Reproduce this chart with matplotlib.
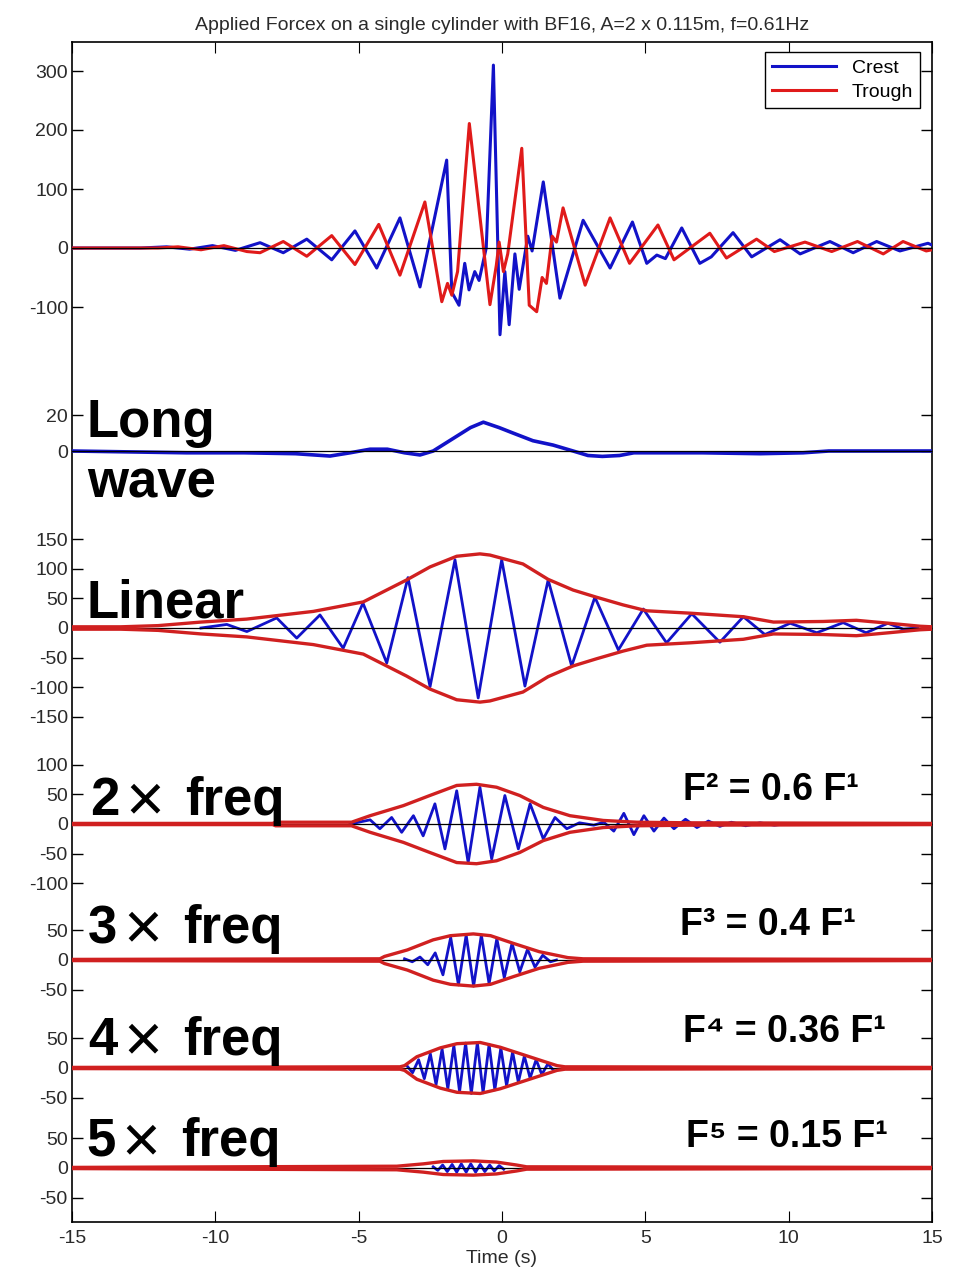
import matplotlib
matplotlib.use("Agg")
from matplotlib import pyplot as plt

plt.rcParams['font.family'] = ['Liberation Sans', 'DejaVu Sans']
plt.rcParams['axes.unicode_minus'] = False

# ---- data: time (s) and force values ----
crest_t = [-15, -12.6, -11.7, -10.9, -10.1, -9.3, -8.44, -7.63, -6.81, -5.94, -5.13, -4.37,
           -3.56, -2.86, -1.93, -1.75, -1.5, -1.3, -1.15, -0.95, -0.8, -0.55, -0.30, -0.07,
           0.1, 0.25, 0.45, 0.6, 0.9, 1.05, 1.44, 2.02, 2.83, 3.77, 4.55, 5.05, 5.4, 5.7,
           6.27, 6.9, 7.3, 8.06, 8.71, 9.7, 10.4, 11.44, 12.25, 13.07, 13.88, 14.86, 15]
crest_v = [0, 0, 2, -2, 4, -4, 9, -8, 15, -20, 29, -34,
           51, -66, 149, -75, -97, -26, -71, -40, -55, 0, 310, -147,
           -40, -130, -10, -70, 20, -5, 112, -85, 47, -34, 44, -26, -12, -18,
           34, -26, -15, 26, -15, 14, -10, 11, -8, 11, -5, 8, 5]

trough_t = [-15, -12, -11.3, -10.5, -9.7, -8.9, -8.44, -7.63, -6.81, -5.94, -5.13, -4.3,
            -3.56, -2.69, -2.1, -1.9, -1.75, -1.55, -1.14, -0.42, -0.3, -0.2, -0.1, 0.05,
            0.2, 0.69, 0.95, 1.21, 1.4, 1.55, 1.75, 1.9, 2.13, 2.9, 3.77, 4.45, 5.44, 6.0,
            7.25, 7.83, 8.88, 9.5, 10.57, 11.5, 12.4, 13.3, 13.99, 14.8, 15]
trough_v = [0, 0, 2, -3, 4, -6, -8, 11, -14, 21, -28, 40,
            -46, 78, -91, -60, -80, -40, 211, -96, -60, -30, 10, -40,
            -10, 169, -97, -108, -50, -60, 20, 10, 68, -63, 51, -26, 39, -20,
            25, -17, 15, -6, 10, -6, 11, -10, 11, -5, -3]

long_t = [-15, -13, -11, -9, -7.2, -6.0, -5.3, -4.6, -4.0, -3.4, -2.86, -2.4, -1.7, -1.1,
          -0.65, -0.1, 0.38, 1.08, 1.78, 2.48, 3.0, 3.5, 4.1, 4.6, 7, 9, 10.5, 11.4, 15]
long_v = [0, -0.5, -1, -1, -1.5, -2.8, -1, 1, 1, -1, -2.2, 0, 7, 13,
          16, 13, 10, 5.7, 3.3, 0, -2.5, -3, -2.5, -1, -1, -1.5, -1, 0, 0]

lin_t = [-10.5, -9.6, -8.9, -7.86, -7.16, -6.35, -5.54, -4.85, -4.02, -3.28, -2.51, -1.64,
         -0.83, -0.01, 0.80, 1.61, 2.43, 3.24, 4.06, 4.93, 5.74, 6.62, 7.6, 8.42, 9.17,
         10.05, 10.98, 11.9, 12.7, 13.46, 14.0, 14.5]
lin_v = [0, 6, -6, 17, -17, 22, -34, 42, -59, 85, -99, 115,
         -118, 115, -98, 81, -64, 52, -37, 32, -25, 24, -24, 19, -11,
         8, -8, 9, -8, 8, -2, 0]
lin_env_t = [-15, -13.3, -12, -10.5, -8.91, -6.58, -4.84, -3.33, -2.51, -1.58, -0.77, -0.42,
             0.73, 1.61, 2.48, 3.29, 4.22, 5.05, 6.56, 8.42, 9.47, 11.2, 12.36, 13.5, 14.58, 15]
lin_env_v = [2, 2, 4, 10, 15, 28, 44, 81, 103, 121, 125, 123,
             108, 82, 64, 52, 39, 29, 25, 19, 10, 11, 13, 8, 3, 2]

f2_t = [-5.3, -4.60, -4.26, -3.85, -3.50, -3.09, -2.75, -2.34, -1.99, -1.58, -1.18, -0.77,
        -0.36, 0.10, 0.57, 0.98, 1.44, 1.85, 2.26, 2.7, 3.2, 3.55, 3.9, 4.25, 4.6, 4.95,
        5.3, 5.65, 6.0, 6.4, 6.8, 7.2, 7.6, 8.0, 8.5, 9.0, 9.5, 10.0, 11]
f2_v = [0, 7, -8, 11, -14, 14, -20, 34, -42, 56, -65, 62,
        -59, 48, -42, 34, -25, 11, -8, 2, -2, 3, -12, 18, -18, 14,
        -12, 10, -8, 8, -6, 5, -4, 3, -3, 2, -2, 1, 0]
f2_env_t = [-15, -8, -7.9, -5.25, -4.6, -3.44, -2.52, -1.58, -0.89, -0.19, 0.62, 1.44,
            2.37, 3.53, 4.7, 6.5, 15]
f2_env_v = [1, 1, 3, 3, 14, 31, 48, 65, 67, 62, 48, 28, 14, 6, 3, 2, 1]

f3_t = [-3.40, -3.13, -2.86, -2.59, -2.33, -2.06, -1.79, -1.52, -1.25, -0.99, -0.72,
        -0.45, -0.18, 0.08, 0.35, 0.62, 0.89, 1.15, 1.42, 1.69, 1.9]
f3_v = [2, -3, 5, -8, 12, -25, 38, -42, 42, -44, 42, -40, 36, -30, 28, -20, 18, -12, 8, -3, 0]
f3_env_t = [-15, -4.26, -4.1, -3.3, -2.4, -1.8, -1.0, -0.4, 0.4, 1.3, 2.3, 2.83, 15]
f3_env_v = [1, 2, 6, 17, 34, 41, 44, 41, 28, 14, 4, 2, 1]

f4_t = [-3.32, -3.12, -2.91, -2.71, -2.50, -2.30, -2.09, -1.89, -1.68, -1.48, -1.27, -1.07,
        -0.86, -0.66, -0.45, -0.25, -0.04, 0.16, 0.37, 0.57, 0.78, 0.98, 1.19, 1.39, 1.60, 1.80]
f4_v = [4, -8, 14, -18, 24, -28, 32, -35, 38, -40, 42, -43,
        43, -42, 40, -37, 34, -30, 27, -24, 20, -17, 14, -11, 7, -4]
f4_env_t = [-15, -3.56, -3.4, -2.97, -2.15, -1.57, -0.76, -0.06, 0.64, 1.34, 1.92, 2.2, 15]
f4_env_v = [1, 2, 4, 19, 34, 41, 43, 35, 24, 13, 4, 2, 1]

f5_t = [-2.40, -2.24, -2.07, -1.91, -1.74, -1.58, -1.42, -1.25, -1.09, -0.92, -0.76, -0.60,
        -0.43, -0.27, -0.10, 0.06]
f5_v = [2, -4, 5, -6, 6, -7, 7, -7, 7, -7, 6, -6, 5, -5, 4, -2]
f5_env_t = [-15, -3.67, -2.74, -2.05, -1.0, -0.19, 0.51, 0.86, 15]
f5_env_v = [1, 3, 7, 11, 12, 10, 5, 2, 1]

x_ticks = [-15, -10, -5, 0, 5, 10, 15]

BLUE = '#1212c8'
RED = '#e01a1a'
ENV = '#d02020'
W, H = 964, 1280
X0, X1 = 72, 932


def rect(top, bottom):
    return [X0 / W, 1 - bottom / H, (X1 - X0) / W, (bottom - top) / H]


def panel(top, bottom, zero, scale, yticks):
    ax = fig.add_axes(rect(top, bottom))
    ax.set_xlim(-15, 15)
    ax.set_ylim(-(bottom - zero) / scale, (zero - top) / scale)
    ax.patch.set_alpha(0)
    for s in ax.spines.values():
        s.set_visible(False)
    ax.set_xticks([])
    ax.set_yticks(yticks)
    ax.tick_params(axis='y', direction='in', left=True, right=True, length=8,
                   width=1, labelsize=14, labelcolor='#2a2a2a', pad=3)
    ax.axhline(0, color='black', lw=0.9, zorder=3)
    return ax


fig = plt.figure(figsize=(W / 100, H / 100), dpi=100)

frame = fig.add_axes(rect(42, 1222))
frame.set_xlim(-15, 15)
frame.set_ylim(0, 1)
frame.set_yticks([])
frame.set_xticks(x_ticks)
frame.tick_params(axis='x', direction='in', top=True, bottom=True, length=8,
                  labelsize=14, labelcolor='#2a2a2a', pad=6)
for s in frame.spines.values():
    s.set_linewidth(1.2)
frame.set_xlabel('Time (s)', fontsize=14, color='#2a2a2a', labelpad=2)
frame.set_title('Applied Forcex on a single cylinder with BF16, A=2 x 0.115m, f=0.61Hz',
                fontsize=14, color='#2a2a2a', pad=9)

# top: total force
ax1 = panel(42, 380, 248, 0.59, [300, 200, 100, 0, -100])
ax1.plot(crest_t, crest_v, color=BLUE, lw=2.2, label='Crest', zorder=2)
ax1.plot(trough_t, trough_v, color=RED, lw=2.2, label='Trough', zorder=2)
leg = ax1.legend(loc='upper right', bbox_to_anchor=(0.986, 0.97), borderaxespad=0,
                 fontsize=14, fancybox=False, edgecolor='black', framealpha=1,
                 handlelength=3.3, borderpad=0.35, labelspacing=0.35)
leg.get_frame().set_linewidth(1.0)

# long wave
ax2 = panel(380, 520, 451, 1.8, [20, 0])
ax2.plot(long_t, long_v, color=BLUE, lw=2.6, zorder=2)

# harmonics
specs = [
    (520, 745, 628, [150, 100, 50, 0, -50, -100, -150], lin_t, lin_v, lin_env_t, lin_env_v),
    (745, 905, 824, [100, 50, 0, -50, -100], f2_t, f2_v, f2_env_t, f2_env_v),
    (905, 1015, 960, [50, 0, -50], f3_t, f3_v, f3_env_t, f3_env_v),
    (1015, 1120, 1068, [50, 0, -50], f4_t, f4_v, f4_env_t, f4_env_v),
    (1120, 1222, 1168, [50, 0, -50], f5_t, f5_v, f5_env_t, f5_env_v),
]
for top, bottom, zero, yt, bt, bv, et, ev in specs:
    ax = panel(top, bottom, zero, 0.593, yt)
    ax.plot(bt, bv, color=BLUE, lw=2.0, zorder=2)
    ax.plot(et, ev, color=ENV, lw=2.4, zorder=4)
    ax.plot(et, [-v for v in ev], color=ENV, lw=2.4, zorder=4)

# big annotations
big = dict(fontsize=38, fontweight='bold', color='black', va='baseline', ha='left')
words = [("Long", 87, 437), ("wave", 87, 498), ("Linear", 87, 617)]
for txt, x, y in words:
    fig.text(x / W, 1 - y / H, txt, **big)

# "n x freq" labels: number, times sign, then word
freq_labels = [("2", 90, 815), ("3", 88, 943), ("4", 88, 1055), ("5", 86, 1156)]
for num, x, y in freq_labels:
    fig.text(x / W, 1 - y / H, num, **big)
    fig.text((x + 35) / W, 1 - (y + 5) / H, "\u00d7", fontsize=48, color='black',
             va='baseline', ha='left')
    fig.text((x + 95) / W, 1 - y / H, "freq", **big)

small = dict(fontsize=27, fontweight='bold', color='black', va='baseline', ha='left')
ratios = [("F\u00b2 = 0.6 F\u00b9", 683, 800), ("F\u00b3 = 0.4 F\u00b9", 680, 935),
          ("F\u2074 = 0.36 F\u00b9", 683, 1042), ("F\u2075 = 0.15 F\u00b9", 686, 1147)]
for txt, x, y in ratios:
    fig.text(x / W, 1 - y / H, txt, **small)

fig.savefig('out.png', dpi=100)
